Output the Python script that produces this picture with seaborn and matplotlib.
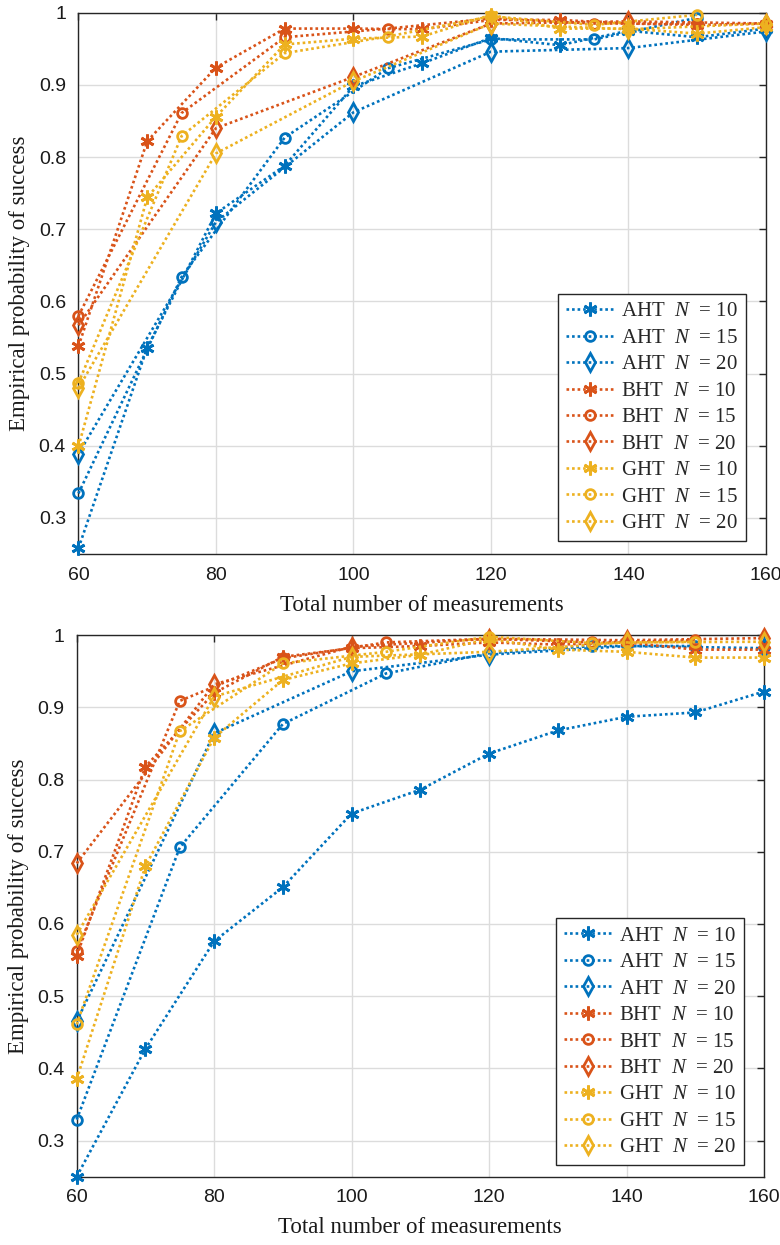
import numpy as np
import pandas as pd
import seaborn as sns
import matplotlib
matplotlib.use("Agg")
import matplotlib.pyplot as plt
from matplotlib.ticker import FuncFormatter

# Measurement counts for each block size N
x_n10 = [60, 70, 80, 90, 100, 110, 120, 130, 140, 150, 160]
x_n15 = [60, 75, 90, 105, 120, 135, 150]
x_n20 = [60, 80, 100, 120, 140, 160]

# Upper panel: empirical probability of success
top_aht_10 = [0.258, 0.536, 0.722, 0.788, 0.898, 0.930, 0.965, 0.955, 0.975, 0.966, 0.978]
top_aht_15 = [0.334, 0.634, 0.827, 0.923, 0.963, 0.963, 0.993]
top_aht_20 = [0.389, 0.710, 0.862, 0.946, 0.951, 0.974]
top_bht_10 = [0.538, 0.822, 0.924, 0.978, 0.978, 0.977, 0.990, 0.990, 0.985, 0.983, 0.985]
top_bht_15 = [0.580, 0.861, 0.966, 0.978, 0.992, 0.985, 0.985]
top_bht_20 = [0.567, 0.840, 0.911, 0.985, 0.988, 0.985]
top_ght_10 = [0.399, 0.744, 0.856, 0.956, 0.964, 0.967, 0.997, 0.978, 0.978, 0.971, 0.980]
top_ght_15 = [0.487, 0.829, 0.944, 0.967, 0.995, 0.983, 0.997]
top_ght_20 = [0.480, 0.805, 0.905, 0.985, 0.977, 0.985]

# Lower panel: empirical probability of success
bot_aht_10 = [0.250, 0.427, 0.576, 0.651, 0.753, 0.786, 0.836, 0.868, 0.887, 0.893, 0.922]
bot_aht_15 = [0.329, 0.706, 0.877, 0.947, 0.975, 0.985, 0.985]
bot_aht_20 = [0.465, 0.864, 0.950, 0.973, 0.985, 0.982]
bot_bht_10 = [0.556, 0.818, 0.920, 0.970, 0.982, 0.985, 0.990, 0.987, 0.990, 0.980, 0.980]
bot_bht_15 = [0.562, 0.909, 0.968, 0.990, 0.995, 0.990, 0.993]
bot_bht_20 = [0.684, 0.932, 0.984, 0.995, 0.993, 0.996]
bot_ght_10 = [0.385, 0.680, 0.858, 0.938, 0.961, 0.973, 0.995, 0.980, 0.977, 0.969, 0.969]
bot_ght_15 = [0.461, 0.867, 0.961, 0.977, 0.998, 0.989, 0.991]
bot_ght_20 = [0.585, 0.915, 0.970, 0.977, 0.990, 0.991]

methods = ["AHT", "BHT", "GHT"]
block_sizes = [10, 15, 20]
x_by_n = {10: x_n10, 15: x_n15, 20: x_n20}

top_data = {
    ("AHT", 10): top_aht_10, ("AHT", 15): top_aht_15, ("AHT", 20): top_aht_20,
    ("BHT", 10): top_bht_10, ("BHT", 15): top_bht_15, ("BHT", 20): top_bht_20,
    ("GHT", 10): top_ght_10, ("GHT", 15): top_ght_15, ("GHT", 20): top_ght_20,
}
bot_data = {
    ("AHT", 10): bot_aht_10, ("AHT", 15): bot_aht_15, ("AHT", 20): bot_aht_20,
    ("BHT", 10): bot_bht_10, ("BHT", 15): bot_bht_15, ("BHT", 20): bot_bht_20,
    ("GHT", 10): bot_ght_10, ("GHT", 15): bot_ght_15, ("GHT", 20): bot_ght_20,
}

colors = {"AHT": "#0072BD", "BHT": "#D95319", "GHT": "#EDB120"}
markers = {10: (6, 2, 0), 15: "o", 20: "d"}
msizes = {10: 10, 15: 7, 20: 9}

sns.set_theme(style="whitegrid")
plt.rcParams["font.family"] = ["Liberation Serif", "DejaVu Serif"]
plt.rcParams["mathtext.fontset"] = "custom"
plt.rcParams["mathtext.it"] = "Liberation Serif:italic"
plt.rcParams["mathtext.rm"] = "Liberation Serif"

fig = plt.figure(figsize=(7.8, 12.45), dpi=100)
ax_top = fig.add_axes([0.1006, 0.555, 0.8814, 0.4348])
ax_bot = fig.add_axes([0.0983, 0.0549, 0.8812, 0.4349])


def draw_panel(ax, data, legend_anchor):
    for m in methods:
        for n in block_sizes:
            df = pd.DataFrame({"x": x_by_n[n], "p": data[(m, n)]})
            face = "none" if n != 10 else colors[m]
            sns.lineplot(
                data=df, x="x", y="p", ax=ax, color=colors[m],
                linestyle=(0, (1, 1.1)), linewidth=1.9,
                marker=markers[n], markersize=msizes[n],
                markerfacecolor=face, markeredgecolor=colors[m],
                markeredgewidth=2.0, label=f"{m}  $N$  = {n}",
                sort=False, estimator=None, clip_on=False, zorder=3,
            )
    ax.set_xlim(60, 160)
    ax.set_ylim(0.25, 1.0)
    ax.set_xticks([60, 80, 100, 120, 140, 160])
    ax.set_yticks([0.3, 0.4, 0.5, 0.6, 0.7, 0.8, 0.9, 1.0])
    ax.yaxis.set_major_formatter(
        FuncFormatter(lambda v, _: "1" if abs(v - 1) < 1e-9 else f"{v:.1f}"))
    ax.set_facecolor("white")
    ax.grid(True, color="#dcdcdc", linewidth=1.0)
    ax.set_axisbelow(True)
    for side in ["left", "bottom", "top", "right"]:
        ax.spines[side].set_visible(True)
        ax.spines[side].set_color("#262626")
        ax.spines[side].set_linewidth(1.0)
        ax.spines[side].set_zorder(2.5)
    ax.tick_params(direction="in", top=True, right=True, length=5,
                   width=1.0, color="#262626", labelsize=14, pad=9,
                   labelcolor="#1a1a1a")
    for lab in ax.get_xticklabels() + ax.get_yticklabels():
        lab.set_fontfamily("Liberation Sans")
    ax.set_xlabel("Total number of measurements", fontsize=16.5,
                  color="#1a1a1a", labelpad=8)
    ax.set_ylabel("Empirical probability of success", fontsize=16.5,
                  color="#1a1a1a", labelpad=6)
    leg = ax.legend(loc="lower right", bbox_to_anchor=legend_anchor,
                    borderaxespad=0, fontsize=15, frameon=True,
                    fancybox=False, framealpha=1, edgecolor="#262626",
                    handlelength=2.3, handletextpad=0.35, labelspacing=0.33,
                    borderpad=0.38)
    leg.get_frame().set_linewidth(1.0)
    leg.set_zorder(5)


draw_panel(ax_top, top_data, (0.971, 0.024))
draw_panel(ax_bot, bot_data, (0.9706, 0.021))

fig.savefig("out.png", dpi=100)
